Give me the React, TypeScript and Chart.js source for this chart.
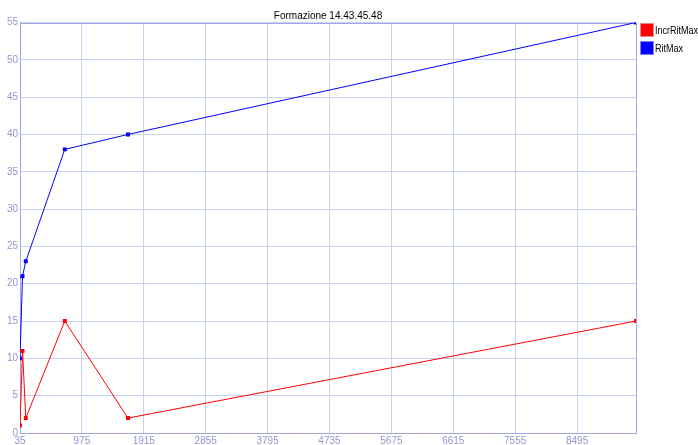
import React, { useEffect, useRef } from "react";
import { Chart, registerables } from "chart.js";

Chart.register(...registerables);

const TITLE = "Formazione 14.43.45.48";
const xValues = [35, 73, 123, 715, 1675, 9390];
const incrRitMax = [1, 11, 2, 15, 2, 15];
const ritMax = [10, 21, 23, 38, 40, 55];
const xTicks = [35, 975, 1915, 2855, 3795, 4735, 5675, 6615, 7555, 8495];
const X_MIN = 35;
const X_MAX = 9390;
const Y_MIN = 0;
const Y_MAX = 55;
const Y_STEP = 5;

const FONT = "'Liberation Sans', Arial, sans-serif";
const GRID = "#c8d0f4";
const FRAME = "#a4a8e2";
const TICK_COLOR = "#9496cc";

const framePlugin = {
  id: "frame",
  beforeDatasetsDraw(chart: any) {
    const { ctx, chartArea } = chart;
    ctx.save();
    ctx.strokeStyle = FRAME;
    ctx.lineWidth = 1;
    const l = Math.round(chartArea.left) + 0.5;
    const t = Math.round(chartArea.top) + 0.5;
    const r = Math.round(chartArea.right) + 0.5;
    const b = Math.round(chartArea.bottom) + 0.5;
    ctx.strokeRect(l, t, r - l, b - t);
    ctx.restore();
  },
};

const legendPlugin = {
  id: "sideLegend",
  afterDraw(chart: any) {
    const { ctx, chartArea } = chart;
    ctx.save();
    chart.data.datasets.forEach((ds: any, i: number) => {
      const x = Math.round(chartArea.right) + 4;
      const y = Math.round(chartArea.top) + i * 18;
      ctx.fillStyle = ds.legendBorder;
      ctx.fillRect(x, y, 14, 14);
      ctx.fillStyle = ds.borderColor;
      ctx.fillRect(x + 1, y + 1, 12, 12);
      ctx.fillStyle = "#000";
      ctx.font = `11px ${FONT}`;
      ctx.textBaseline = "middle";
      ctx.textAlign = "left";
      const w = ctx.measureText(ds.label).width;
      ctx.fillText(ds.label, x + 15, y + 7.5, Math.min(w * 0.82, 43));
    });
    ctx.restore();
  },
};

export default function App() {
  const ref = useRef<HTMLCanvasElement | null>(null);

  useEffect(() => {
    if (!ref.current) return;
    const chart = new Chart(ref.current, {
      type: "line",
      data: {
        datasets: [
          {
            label: "IncrRitMax",
            data: xValues.map((x, i) => ({ x, y: incrRitMax[i] })),
            borderColor: "#ff0000",
            backgroundColor: "#ff0000",
            borderWidth: 1,
            pointStyle: "rect",
            pointRadius: 2.8,
            pointBorderWidth: 0,
            tension: 0,
            legendBorder: "#ff8080",
          } as any,
          {
            label: "RitMax",
            data: xValues.map((x, i) => ({ x, y: ritMax[i] })),
            borderColor: "#0000ff",
            backgroundColor: "#0000ff",
            borderWidth: 1,
            pointStyle: "rect",
            pointRadius: 2.8,
            pointBorderWidth: 0,
            tension: 0,
            legendBorder: "#8080ff",
          } as any,
        ],
      },
      options: {
        animation: false,
        responsive: false,
        devicePixelRatio: 1,
        layout: { padding: { left: 0, right: 62, top: 0, bottom: 0 } },
        plugins: {
          legend: { display: false },
          tooltip: { enabled: false },
          title: {
            display: true,
            text: TITLE,
            fullSize: false,
            color: "#000",
            font: { family: FONT, size: 10, weight: "normal" },
            padding: { top: 10, bottom: 0.5 },
          },
        },
        scales: {
          x: {
            type: "linear",
            min: X_MIN,
            max: X_MAX,
            afterBuildTicks: (scale: any) => {
              scale.ticks = xTicks.map((v) => ({ value: v }));
            },
            afterFit: (scale: any) => {
              scale.height = 12;
            },
            ticks: {
              color: TICK_COLOR,
              font: { family: FONT, size: 10 },
              padding: 2,
              maxRotation: 0,
              autoSkip: false,
              callback: (v: any) => String(v),
            },
            grid: { color: GRID, drawTicks: false },
            border: { color: FRAME },
          },
          y: {
            type: "linear",
            min: Y_MIN,
            max: Y_MAX,
            afterFit: (scale: any) => {
              scale.width = 20;
            },
            ticks: {
              stepSize: Y_STEP,
              color: TICK_COLOR,
              font: { family: FONT, size: 10 },
              padding: 2,
              callback: (v: any) => String(v),
            },
            grid: { color: GRID, drawTicks: false },
            border: { color: FRAME },
          },
        },
      },
      plugins: [framePlugin, legendPlugin],
    });
    return () => chart.destroy();
  }, []);

  return (
    <div style={{ position: "fixed", left: 0, top: 0, width: 698, height: 445, background: "#fff" }}>
      <canvas ref={ref} width={698} height={445} style={{ display: "block" }} />
    </div>
  );
}
